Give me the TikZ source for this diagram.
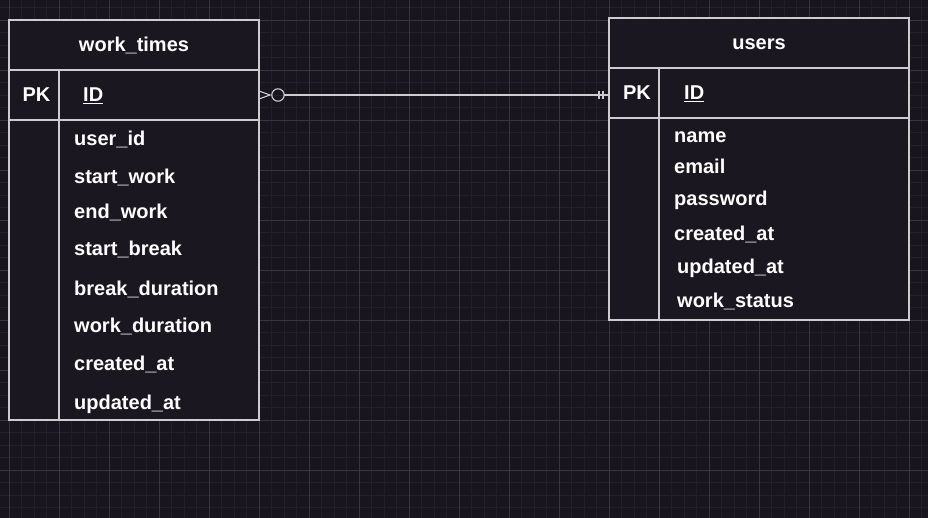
\documentclass[tikz,border=0pt]{standalone}
\usepackage{fontspec}
\setmainfont{Liberation Sans}
\usetikzlibrary{calc}
\definecolor{bgc}{RGB}{24,21,30}
\definecolor{minorc}{RGB}{35,33,40}
\definecolor{majorc}{RGB}{56,54,61}
\definecolor{boxc}{RGB}{26,23,33}
\definecolor{linec}{RGB}{205,205,208}
\begin{document}
\begin{tikzpicture}[x=1pt,y=-1pt,
  minorgrid/.style={draw=minorc,line width=0.8pt},
  majorgrid/.style={draw=majorc,line width=0.9pt},
  cell/.style={draw=linec,fill=boxc,line width=1.3pt,inner sep=0pt,outer sep=0pt},
  txt/.style={text=white,font=\bfseries\fontsize{20}{24}\selectfont,inner sep=0pt},
  fld/.style={txt,anchor=base west},
  ctr/.style={txt,anchor=base},
  conn/.style={draw=linec,line width=1.1pt}]
\fill[bgc] (0,0) rectangle (928,518);
\useasboundingbox (0,0) rectangle (928,518);
\foreach \i in {-1,...,73} \draw[minorgrid] ({9+12.5*\i},0) -- ({9+12.5*\i},518);
\foreach \i in {-2,...,40} \draw[minorgrid] (0,{20+12.5*\i}) -- (928,{20+12.5*\i});
\foreach \i in {0,...,18} \draw[majorgrid] ({9+50*\i},0) -- ({9+50*\i},518);
\foreach \i in {0,...,10} \draw[majorgrid] (0,{20+50*\i}) -- (928,{20+50*\i});

% work_times table
\node[cell,minimum width=250pt,minimum height=50pt] (wth) at (134,45) {};
\node[cell,minimum width=250pt,minimum height=50pt] (wtpk) at (134,95) {};
\node[cell,minimum width=250pt,minimum height=300pt] (wtb) at (134,270) {};
\draw[draw=linec,line width=1.3pt] ($(wtpk.north west)+(50,0)$) -- ($(wtb.south west)+(50,0)$);
\node[ctr] (wtt) at (134,52) {work\_times};
\node[ctr] (wtpkl) at (36.5,102) {PK};
\node[fld] (wtid) at (83,102) {\underline{ID}};
\node[fld] (wt1) at (74,146) {user\_id};
\node[fld] (wt2) at (74,184) {start\_work};
\node[fld] (wt3) at (74,219) {end\_work};
\node[fld] (wt4) at (74,256) {start\_break};
\node[fld] (wt5) at (74,295) {break\_duration};
\node[fld] (wt6) at (74,332) {work\_duration};
\node[fld] (wt7) at (74,370) {created\_at};
\node[fld] (wt8) at (74,409) {updated\_at};

% users table
\node[cell,minimum width=300pt,minimum height=50pt] (ush) at (759,43) {};
\node[cell,minimum width=300pt,minimum height=50pt] (uspk) at (759,93) {};
\node[cell,minimum width=300pt,minimum height=202pt] (usb) at (759,219) {};
\draw[draw=linec,line width=1.3pt] ($(uspk.north west)+(50,0)$) -- ($(usb.south west)+(50,0)$);
\node[ctr] (ust) at (759,50) {users};
\node[ctr] (uspkl) at (637,100) {PK};
\node[fld] (usid) at (684,100) {\underline{ID}};
\node[fld] (us1) at (674,143) {name};
\node[fld] (us2) at (674,174) {email};
\node[fld] (us3) at (674,206) {password};
\node[fld] (us4) at (674,241) {created\_at};
\node[fld] (us5) at (677,274) {updated\_at};
\node[fld] (us6) at (677,308) {work\_status};

% connector
\coordinate (a) at ($(wtpk.east)$);
\coordinate (b) at (a -| uspk.west);
\draw[conn] ($(a)+(25,0)$) -- (b);
\draw[conn] ($(a)+(0,-4)$) -- ($(a)+(11,0)$) -- ($(a)+(0,4)$);
\draw[conn] ($(a)+(19,0)$) circle (6.2pt);
\draw[conn] ($(b)+(-10,-4)$) -- ($(b)+(-10,4)$);
\draw[conn] ($(b)+(-6,-4)$) -- ($(b)+(-6,4)$);
\end{tikzpicture}
\end{document}
